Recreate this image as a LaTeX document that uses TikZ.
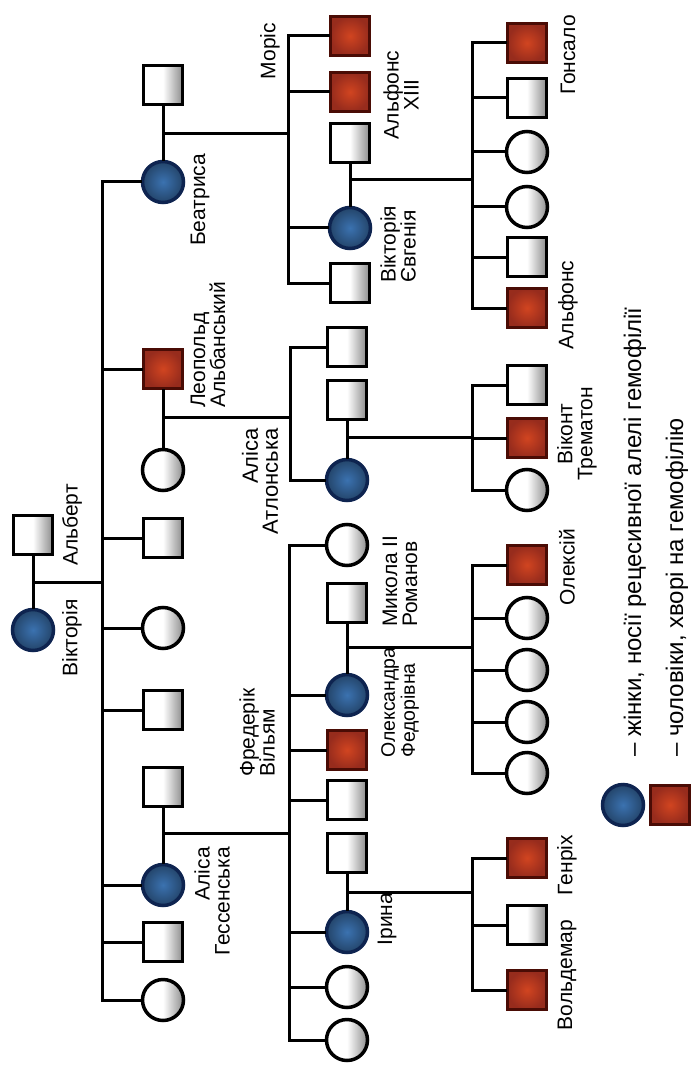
\documentclass[tikz,border=0pt]{standalone}
\usepackage{fontspec}
\setmainfont{Liberation Sans}
\definecolor{carrier}{HTML}{3B72B0}
\definecolor{carrierdark}{HTML}{0E2450}
\definecolor{affected}{HTML}{C93A26}
\definecolor{affecteddark}{HTML}{4A0C05}
\tikzset{
  conn/.style={line width=3pt, line cap=rect},
  male/.style={rectangle, draw=black, line width=3.5pt, minimum size=39pt, inner sep=0pt,
    left color=white, right color=black!45, middle color=white},
  female/.style={circle, draw=black, line width=3.5pt, minimum size=41pt, inner sep=0pt,
    left color=white, right color=black!45, middle color=white},
  carrierf/.style={circle, draw=carrierdark, line width=3.5pt, minimum size=41pt, inner sep=0pt,
    inner color=carrier, outer color=carrier!60!black},
  affm/.style={rectangle, draw=affecteddark, line width=3.5pt, minimum size=39pt, inner sep=0pt,
    inner color=affected!85!orange, outer color=affected!75!black},
  lab/.style={rotate=90, font=\fontsize{21}{20}\selectfont, inner sep=0pt},
  leg/.style={rotate=90, font=\fontsize{24}{24}\selectfont, inner sep=0pt, anchor=west},
}
\begin{document}
\begin{tikzpicture}[x=1pt, y=-1pt]
\fill[white] (0,0) rectangle (690,1067);
\useasboundingbox (0,0) rectangle (690,1067);

% generation 0
\node[carrierf] (vic) at (33,630) {};
\node[male] (alb) at (33,535) {};
% generation 1
\node[male] (beah) at (163,85) {};
\node[carrierf] (bea) at (163,182) {};
\node[affm] (leo) at (163,369) {};
\node[female] (leow) at (163,470) {};
\node[male] (g1a) at (163,538) {};
\node[female] (g1b) at (163,628) {};
\node[male] (g1c) at (163,710) {};
\node[male] (alhh) at (163,787) {};
\node[carrierf] (alh) at (163,885) {};
\node[male] (g1d) at (163,942) {};
\node[female] (g1e) at (163,1000) {};
% generation 2
\node[affm] (mor) at (350,36) {};
\node[affm] (leob) at (350,92) {};
\node[male] (alf13) at (350,143) {};
\node[carrierf] (vev) at (350,228) {};
\node[male] (g2a) at (350,283) {};
\node[male] (g2b) at (347,347) {};
\node[male] (aath) at (347,400) {};
\node[carrierf] (aat) at (347,480) {};
\node[female] (g2c) at (347,545) {};
\node[male] (nik) at (347,603) {};
\node[carrierf] (alx) at (347,695) {};
\node[affm] (fri) at (347,750) {};
\node[male] (g2d) at (347,800) {};
\node[male] (irih) at (347,853) {};
\node[carrierf] (iri) at (347,932) {};
\node[female] (g2e) at (347,987) {};
\node[female] (g2f) at (347,1040) {};
% generation 3
\node[affm] (gon) at (527,43) {};
\node[male] (g3a) at (527,98) {};
\node[female] (g3b) at (527,152) {};
\node[female] (g3c) at (527,207) {};
\node[male] (g3d) at (527,257) {};
\node[affm] (alf) at (527,308) {};
\node[male] (g3e) at (527,385) {};
\node[affm] (tre) at (527,438) {};
\node[female] (g3f) at (527,490) {};
\node[affm] (ole) at (527,565) {};
\node[female] (g3g) at (527,618) {};
\node[female] (g3h) at (527,670) {};
\node[female] (g3i) at (527,722) {};
\node[female] (g3j) at (527,773) {};
\node[affm] (hen) at (527,858) {};
\node[male] (g3k) at (527,925) {};
\node[affm] (vol) at (527,990) {};
% legend
\node[carrierf] (lc) at (623,805) {};
\node[affm] (la) at (670,805) {};

% couples
\draw[conn] (alb) -- (vic);
\draw[conn] (beah) -- (bea);
\draw[conn] (leo) -- (leow);
\draw[conn] (alhh) -- (alh);
\draw[conn] (alf13) -- (vev);
\draw[conn] (aath) -- (aat);
\draw[conn] (nik) -- (alx);
\draw[conn] (irih) -- (iri);

% marriage points
\coordinate (m0) at (33,582);
\coordinate (mb) at (163,134);
\coordinate (ml) at (163,417);
\coordinate (mh) at (163,833);
\coordinate (mv) at (350,180);
\coordinate (ma) at (347,437);
\coordinate (mx) at (347,647);
\coordinate (mi) at (347,892);

% sibship lines
\coordinate (s1t) at (102,182); \coordinate (s1b) at (102,1000);
\coordinate (s2t) at (288,36);  \coordinate (s2b) at (288,283);
\coordinate (s3t) at (290,347); \coordinate (s3b) at (290,480);
\coordinate (s4t) at (289,545); \coordinate (s4b) at (289,1040);
\coordinate (s5t) at (472,43);  \coordinate (s5b) at (472,308);
\coordinate (s6t) at (472,385); \coordinate (s6b) at (472,490);
\coordinate (s7t) at (472,565); \coordinate (s7b) at (472,773);
\coordinate (s8t) at (472,858); \coordinate (s8b) at (472,990);
\draw[conn] (s1t) -- (s1b);
\draw[conn] (s2t) -- (s2b);
\draw[conn] (s3t) -- (s3b);
\draw[conn] (s4t) -- (s4b);
\draw[conn] (s5t) -- (s5b);
\draw[conn] (s6t) -- (s6b);
\draw[conn] (s7t) -- (s7b);
\draw[conn] (s8t) -- (s8b);

\draw[conn] (m0) -- (m0 -| s1t);
\draw[conn] (mb) -- (mb -| s2t);
\draw[conn] (ml) -- (ml -| s3t);
\draw[conn] (mh) -- (mh -| s4t);
\draw[conn] (mv) -- (mv -| s5t);
\draw[conn] (ma) -- (ma -| s6t);
\draw[conn] (mx) -- (mx -| s7t);
\draw[conn] (mi) -- (mi -| s8t);

\foreach \c in {bea,leo,g1a,g1b,g1c,alh,g1d,g1e} \draw[conn] (\c.west) -- (\c.west -| s1t);
\foreach \c in {mor,leob,vev,g2a} \draw[conn] (\c.west) -- (\c.west -| s2t);
\foreach \c in {g2b,aat} \draw[conn] (\c.west) -- (\c.west -| s3t);
\foreach \c in {g2c,alx,fri,g2d,iri,g2e,g2f} \draw[conn] (\c.west) -- (\c.west -| s4t);
\foreach \c in {gon,g3a,g3b,g3c,g3d,alf} \draw[conn] (\c.west) -- (\c.west -| s5t);
\foreach \c in {g3e,tre,g3f} \draw[conn] (\c.west) -- (\c.west -| s6t);
\foreach \c in {ole,g3g,g3h,g3i,g3j} \draw[conn] (\c.west) -- (\c.west -| s7t);
\foreach \c in {hen,g3k,vol} \draw[conn] (\c.west) -- (\c.west -| s8t);

% labels
\node[lab] (tvic) at (72,638) {Вікторія};
\node[lab] (talb) at (72,525) {Альберт};
\node[lab] (tbea) at (200,200) {Беатриса};
\node[lab, anchor=west, align=left] (tleo) at (208,408) {Леопольд\\Альбанський};
\node[lab, anchor=east, align=right] (talh) at (212,847) {Аліса\\Гессенська};
\node[lab, anchor=west, align=left] (tfre) at (257,777) {Фредерік\\Вільям};
\node[lab, anchor=east, align=right, font=\fontsize{22}{20}\selectfont] (taat) at (260,428) {Аліса\\Атлонська};
\node[lab] (tmor) at (270,51) {Моріс};
\node[lab, align=center] (talf13) at (401,95) {Альфонс\\XIII};
\node[lab, anchor=west, align=left] (tvev) at (398,283) {Вікторія\\Євгенія};
\node[lab, anchor=west, align=left] (tnik) at (400,627) {Микола II\\Романов};
\node[lab, anchor=west, align=left, font=\fontsize{19.5}{20}\selectfont] (talx) at (400,758) {Олександра\\Федорівна};
\node[lab] (tiri) at (387,919) {Ірина};
\node[lab] (tgon) at (568,55) {Гонсало};
\node[lab] (talf) at (568,305) {Альфонс};
\node[lab, align=center] (ttre) at (577,434) {Віконт\\Трематон};
\node[lab] (tole) at (567,567) {Олексій};
\node[lab] (then) at (567,865) {Генріх};
\node[lab] (tvol) at (567,975) {Вольдемар};
\node[leg] (tlc) at (635,757) {– жінки, носії рецесивної алелі гемофілії};
\node[leg] (tla) at (677,757) {– чоловіки, хворі на гемофілію};
\end{tikzpicture}
\end{document}
